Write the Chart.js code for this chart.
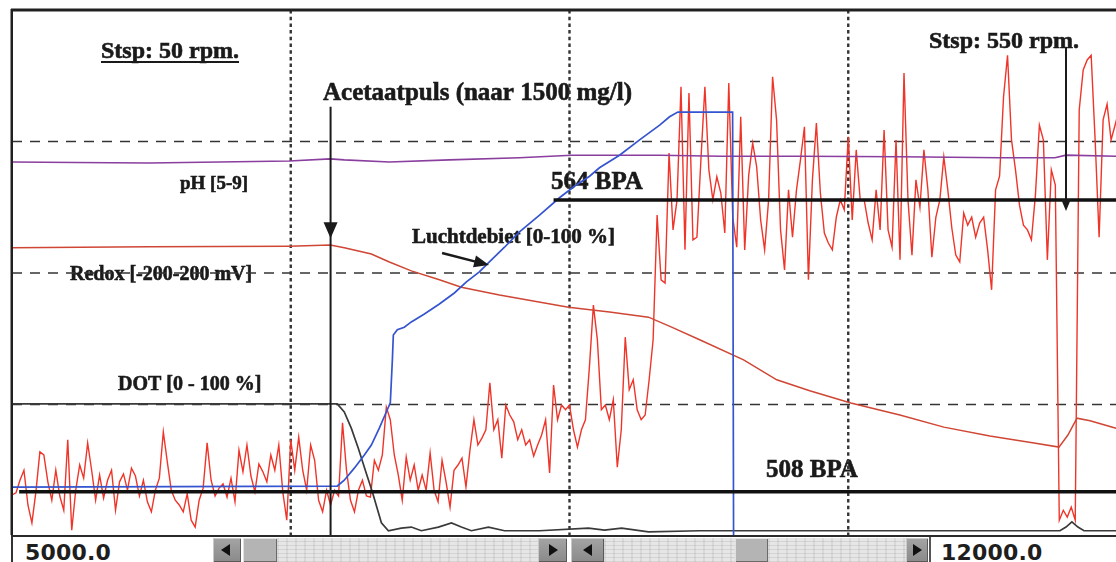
<!DOCTYPE html>
<html>
<head>
<meta charset="utf-8">
<script src="https://cdn.jsdelivr.net/npm/chart.js@4.4.1/dist/chart.umd.min.js"></script>
<style>
  html, body { margin: 0; padding: 0; background: #fff; overflow: hidden; width: 1116px; height: 562px; }
  #wrap { position: absolute; left: 0; top: 0; width: 1130px; height: 537px; }
  #status { position: absolute; left: 0; top: 535px; width: 1116px; height: 27px; overflow: hidden; background: #fff; }
  #status .topline { position: absolute; left: 11px; top: 0; width: 1105px; height: 2px; background: #2a2a2a; }
  #status .box { position: absolute; top: 2px; height: 25px; background: #fff; }
  #status .box span { position: absolute; top: 5px; font: bold 22px "DejaVu Sans", sans-serif; line-height: 22px; color: #1e1e1e; letter-spacing: 0.2px; }
  #status .btn { position: absolute; top: 3px; height: 24px; background: linear-gradient(#a4a4a4, #8a8a8a); box-shadow: inset 1px 1px 0 #c8c8c8, inset -1px -1px 0 #5a5a5a; }
  #status .thumb { position: absolute; top: 3px; height: 24px; background: #b4b4b4; box-shadow: inset 1px 1px 0 #e0e0e0, inset -1px -1px 0 #6a6a6a; }
  #status .track { position: absolute; top: 3px; height: 24px; background-color: #e6e6e6;
    background-image: repeating-linear-gradient(0deg, rgba(0,0,0,0.08) 0 1px, transparent 1px 4px),
                      repeating-linear-gradient(90deg, rgba(0,0,0,0.06) 0 2px, transparent 2px 9px); }
  #status .sep { position: absolute; top: 2px; height: 25px; background: #fff; }
  .tl, .tr { position: absolute; top: 6px; width: 0; height: 0; border-top: 6px solid transparent; border-bottom: 6px solid transparent; }
  .tl { border-right: 9px solid #111; }
  .tr { border-left: 9px solid #111; }
</style>
</head>
<body>
<div id="wrap"><canvas id="c" width="1130" height="537"></canvas></div>
<div id="status">
  <div class="topline"></div>
  <div class="box" style="left:11px;width:201px;border-left:2px solid #333;"><span style="left:12px;">5000.0</span></div>
  <div class="btn" style="left:213px;width:28px;"><i class="tl" style="left:8px;"></i></div>
  <div class="thumb" style="left:243px;width:34px;"></div>
  <div class="track" style="left:277px;width:261px;"></div>
  <div class="btn" style="left:538px;width:29px;"><i class="tr" style="left:11px;"></i></div>
  <div class="sep" style="left:567px;width:4px;"></div>
  <div class="btn" style="left:571px;width:33px;"><i class="tl" style="left:12px;"></i></div>
  <div class="track" style="left:604px;width:131px;"></div>
  <div class="thumb" style="left:735px;width:33px;"></div>
  <div class="track" style="left:768px;width:138px;"></div>
  <div class="btn" style="left:906px;width:22px;"><i class="tr" style="left:7px;"></i></div>
  <div class="box" style="left:929px;width:190px;border-left:2px solid #555;"><span style="left:10px;">12000.0</span></div>
</div>
<script>
// Time axis (s) and signal levels (% of each signal's range)
const timeMin = 5000;
const timeMax = 12000;
const timeGrid = [6750, 8500, 10250];
const levelGrid = [25, 50, 75];

// Stirrer trace, logged every 25 s from t = 5000 s
const rpmStart = 5000;
const rpmStep = 25;
const rpmValues = [
  7.8, 8.2, 10.6, 12.5, 5.9, 2.5, 8.4, 16.0, 15.4, 10.3,
  6.8, 12.5, 7.6, 4.9, 18.3, 1.1, 8.7, 13.5, 11.0, 17.7,
  12.5, 6.8, 11.6, 7.2, 10.6, 12.5, 4.9, 10.3, 11.8, 8.7,
  12.9, 11.4, 7.6, 10.6, 6.5, 4.6, 8.7, 11.0, 19.8, 14.1,
  8.7, 6.8, 5.9, 4.6, 8.0, 3.0, 1.7, 6.8, 9.1, 17.7,
  10.6, 7.6, 9.1, 9.9, 7.4, 11.0, 6.5, 16.3, 12.2, 17.3,
  11.4, 8.4, 13.7, 12.2, 10.3, 15.4, 12.5, 17.3, 8.4, 3.0,
  18.3, 12.5, 18.8, 12.5, 8.7, 17.3, 14.4, 6.8, 4.6, 8.7,
  5.9, 8.7, 7.6, 21.5, 12.5, 6.8, 4.6, 8.7, 10.6, 7.6,
  7.4, 14.4, 12.5, 15.4, 24.5, 22.1, 15.4, 11.6, 6.8, 15.0,
  10.6, 13.5, 8.7, 11.6, 8.7, 15.8, 8.7, 6.5, 14.4, 10.3,
  5.5, 12.5, 13.5, 14.8, 9.3, 16.3, 22.1, 17.3, 18.6, 20.2,
  29.1, 20.2, 22.1, 14.8, 24.9, 23.0, 21.7, 18.3, 20.2, 17.3,
  18.3, 15.2, 17.3, 19.2, 22.1, 12.0, 28.7, 22.1, 24.9, 24.0,
  24.9, 20.2, 16.9, 20.2, 22.1, 32.1, 43.9, 37.3, 24.0, 24.9,
  22.1, 25.9, 13.1, 20.2, 37.8, 27.8, 29.7, 24.0, 22.1, 23.0,
  29.7, 37.3, 61.0, 48.7, 48.1, 72.8, 58.2, 63.9, 85.4, 54.4,
  84.2, 56.3, 56.8, 71.5, 85.4, 69.6, 63.9, 68.3, 65.2, 57.6,
  86.1, 60.6, 54.9, 79.7, 54.4, 68.6, 74.7, 70.2, 60.1, 54.4,
  63.9, 87.3, 79.1, 58.2, 50.6, 65.8, 56.8, 65.8, 71.5, 77.8,
  48.7, 67.7, 78.5, 65.2, 57.6, 55.7, 54.4, 60.6, 63.9, 62.0,
  75.9, 60.1, 73.4, 63.9, 63.9, 59.5, 56.3, 65.8, 58.2, 77.2,
  58.2, 54.9, 75.3, 52.5, 88.0, 63.9, 53.4, 67.7, 62.5, 73.4,
  65.8, 53.0, 60.6, 63.9, 72.1, 65.8, 58.6, 53.4, 52.1, 61.4,
  59.1, 60.6, 56.8, 59.5, 60.6, 54.4, 46.8, 65.8, 68.4, 83.5,
  91.4, 75.3, 69.6, 62.9, 59.1, 58.2, 56.3, 64.8, 78.1, 75.3,
  52.5, 69.6, 66.7, 3.0, 4.9, 3.6, 5.5, 3.0, 81.0, 88.6,
  90.5, 91.4, 75.3, 56.8, 79.1, 82.1, 75.3, 78.1, 81.0, 77.2, 79.1
];

// pH [5-9]
const phTime  = [5000, 5400, 5861, 6300, 6741, 6998, 7086, 7369, 7746, 8186, 8513, 9066, 9455, 9945, 10574, 11202, 11548, 11617, 11931, 12000];
const phValue = [71.1, 71.0, 70.9, 71.1, 71.3, 71.7, 71.5, 71.1, 71.5, 71.9, 72.4, 72.4, 72.2, 72.2, 72.1, 71.9, 71.9, 72.4, 72.2, 72.2];

// Redox [-200-200 mV]
const redoxTime  = [5000, 5861, 6741, 6998, 7086, 7256, 7369, 7507, 7683, 7821, 8060, 8494, 8751, 8996, 9141, 9317, 9593, 9801, 10008, 10266, 10574, 10850, 11139, 11416, 11573, 11629, 11686, 11768, 11931, 12000];
const redoxValue = [54.8, 55.0, 55.1, 55.3, 54.8, 53.6, 52.1, 50.4, 48.7, 47.3, 45.8, 43.5, 42.6, 41.6, 39.7, 37.3, 33.5, 29.7, 27.6, 25.3, 23.0, 20.7, 19.0, 17.7, 16.9, 19.2, 22.4, 21.9, 20.5, 20.0];

// Luchtdebiet [0-100 %]
const airTime  = [5000, 7042, 7086, 7149, 7212, 7256, 7306, 7356, 7375, 7388, 7394, 7419, 7463, 7507, 7589, 7683, 7777, 7853, 7934, 7997, 8092, 8186, 8312, 8437, 8531, 8626, 8688, 8814, 8940, 9066, 9128, 9180, 9524, 9530, 12000];
const airValue = [9.3, 9.5, 10.6, 12.9, 15.4, 17.3, 20.5, 24.0, 25.3, 33.5, 38.2, 39.2, 39.7, 40.7, 42.2, 44.1, 46.2, 48.3, 50.2, 52.1, 54.9, 57.8, 61.0, 64.3, 66.5, 68.4, 70.0, 72.4, 75.3, 78.1, 79.7, 80.6, 80.6, 0, 0];

// DOT [0 - 100 %]
const dotTime  = [5000, 7042, 7086, 7130, 7174, 7218, 7262, 7319, 7363, 7444, 7507, 7570, 7677, 7759, 7821, 7884, 7991, 8092, 8312, 8619, 8720, 8827, 8996, 9317, 9945, 10574, 11202, 11579, 11617, 11654, 11692, 11730, 12000];
const dotValue = [25.1, 25.1, 23.6, 20.5, 16.7, 12.5, 8.4, 2.5, 1.0, 1.5, 1.7, 1.0, 1.7, 2.5, 1.7, 1.0, 1.7, 1.0, 1.0, 1.5, 1.1, 1.5, 0.8, 1.0, 1.0, 1.0, 1.0, 1.0, 1.7, 2.7, 1.7, 1.0, 1.0];

// Reference levels (BPA)
const bpaLevels = [508, 564];
const bpaFrom = [5045, 8400];

const pts = (ts, vs) => ts.map((t, i) => ({ x: t, y: vs[i] }));
const rpmPoints = rpmValues.map((v, i) => ({ x: rpmStart + i * rpmStep, y: v }));

const serifBold = '"Liberation Serif", "Times New Roman", serif';
const notes = [
  { text: 'Stsp: 50 rpm.', x: 101, y: 58, size: 24, underline: true },
  { text: 'Acetaatpuls (naar 1500 mg/l)', x: 323, y: 100, size: 25 },
  { text: 'Stsp: 550 rpm.', x: 929, y: 48, size: 24 },
  { text: 'pH [5-9]', x: 180, y: 189, size: 19 },
  { text: '564 BPA', x: 551, y: 189, size: 25 },
  { text: 'Luchtdebiet [0-100 %]', x: 412, y: 243, size: 21 },
  { text: 'Redox [-200-200 mV]', x: 70, y: 280, size: 20 },
  { text: 'DOT [0 - 100 %]', x: 118, y: 390, size: 20 },
  { text: '508 BPA', x: 766, y: 477, size: 25 }
];

// Event markers in data coordinates
const pulseMarker = { t: 7000, top: 81.6, tip: 56.6 };
const setpointMarker = { t: 11617, top: 93.0, tip: 61.8 };
const airPointer = { t1: 7700, v1: 53.8, t2: 7995, v2: 51.5 };

function arrowHead(ctx, x, y, angle, len, half) {
  ctx.save();
  ctx.translate(x, y);
  ctx.rotate(angle);
  ctx.beginPath();
  ctx.moveTo(0, 0);
  ctx.lineTo(-len, -half);
  ctx.lineTo(-len, half);
  ctx.closePath();
  ctx.fill();
  ctx.restore();
}

const overlay = {
  id: 'overlay',
  beforeDatasetsDraw(chart) {
    const { ctx, chartArea: a, scales } = chart;
    const x = scales.x, y = scales.y;
    ctx.save();
    ctx.fillStyle = '#1a1a1a';
    ctx.strokeStyle = '#1a1a1a';
    ctx.lineWidth = 0.6;
    ctx.textBaseline = 'alphabetic';
    for (const n of notes) {
      ctx.font = 'bold ' + n.size + 'px ' + serifBold;
      ctx.fillText(n.text, n.x, n.y);
      ctx.strokeText(n.text, n.x, n.y);
      if (n.underline) {
        const w = ctx.measureText(n.text).width;
        ctx.fillRect(n.x, n.y + 3, w, 2);
      }
    }
    ctx.strokeStyle = '#343434';
    ctx.lineWidth = 1.6;
    ctx.setLineDash([10, 8]);
    for (const v of levelGrid) {
      const py = y.getPixelForValue(v);
      ctx.beginPath(); ctx.moveTo(a.left, py); ctx.lineTo(a.right, py); ctx.stroke();
    }
    ctx.lineWidth = 2.4;
    ctx.setLineDash([3.5, 3.2]);
    for (const t of timeGrid) {
      const px = x.getPixelForValue(t);
      ctx.beginPath(); ctx.moveTo(px, a.top); ctx.lineTo(px, a.bottom); ctx.stroke();
    }
    ctx.restore();
  },
  afterDatasetsDraw(chart) {
    const { ctx, chartArea: a, scales } = chart;
    const x = scales.x, y = scales.y;
    ctx.save();
    ctx.strokeStyle = '#1a1a1a';
    ctx.fillStyle = '#1a1a1a';
    ctx.setLineDash([]);

    // acetate pulse marker
    let px = x.getPixelForValue(pulseMarker.t);
    ctx.lineWidth = 2;
    ctx.beginPath();
    ctx.moveTo(px, y.getPixelForValue(pulseMarker.top));
    ctx.lineTo(px, y.getPixelForValue(0));
    ctx.stroke();
    arrowHead(ctx, px, y.getPixelForValue(pulseMarker.tip), Math.PI / 2, 16, 7);

    // setpoint change marker
    px = x.getPixelForValue(setpointMarker.t);
    const tipY = y.getPixelForValue(setpointMarker.tip);
    ctx.beginPath();
    ctx.moveTo(px, y.getPixelForValue(setpointMarker.top));
    ctx.lineTo(px, tipY - 8);
    ctx.stroke();
    arrowHead(ctx, px, tipY, Math.PI / 2, 12, 5);

    // pointer to the air-flow curve
    const ax1 = x.getPixelForValue(airPointer.t1), ay1 = y.getPixelForValue(airPointer.v1);
    const ax2 = x.getPixelForValue(airPointer.t2), ay2 = y.getPixelForValue(airPointer.v2);
    const ang = Math.atan2(ay2 - ay1, ax2 - ax1);
    ctx.lineWidth = 2.4;
    ctx.beginPath();
    ctx.moveTo(ax1, ay1);
    ctx.lineTo(ax2 - 10 * Math.cos(ang), ay2 - 10 * Math.sin(ang));
    ctx.stroke();
    arrowHead(ctx, ax2, ay2, ang, 15, 6);

    // frame
    ctx.fillStyle = '#202020';
    ctx.fillRect(a.left - 1, a.top - 1.5, a.right - a.left + 2, 3);
    ctx.fillRect(a.left - 1.5, a.top - 1, 2.5, a.bottom - a.top + 3);
    ctx.restore();
  }
};

const lineDefaults = { pointRadius: 0, tension: 0, fill: false, spanGaps: true };

new Chart(document.getElementById('c'), {
  type: 'line',
  data: {
    datasets: [
      Object.assign({ label: '508 BPA', data: [{ x: bpaFrom[0], y: bpaLevels[0] }, { x: timeMax, y: bpaLevels[0] }], yAxisID: 'yBpa', borderColor: '#111', borderWidth: 3.5, order: 0 }, lineDefaults),
      Object.assign({ label: '564 BPA', data: [{ x: bpaFrom[1], y: bpaLevels[1] }, { x: timeMax, y: bpaLevels[1] }], yAxisID: 'yBpa', borderColor: '#111', borderWidth: 3.5, order: 0 }, lineDefaults),
      Object.assign({ label: 'Luchtdebiet [0-100 %]', data: pts(airTime, airValue), borderColor: '#3554cf', borderWidth: 1.7, order: 1 }, lineDefaults),
      Object.assign({ label: 'DOT [0 - 100 %]', data: pts(dotTime, dotValue), borderColor: '#3a3a3a', borderWidth: 1.7, order: 2 }, lineDefaults),
      Object.assign({ label: 'Redox [-200-200 mV]', data: pts(redoxTime, redoxValue), borderColor: '#cf4634', borderWidth: 1.5, order: 3 }, lineDefaults),
      Object.assign({ label: 'pH [5-9]', data: pts(phTime, phValue), borderColor: '#8a3e9e', borderWidth: 1.6, order: 4 }, lineDefaults),
      Object.assign({ label: 'Stsp', data: rpmPoints, borderColor: '#ef3529', borderWidth: 1.4, order: 5 }, lineDefaults)
    ]
  },
  options: {
    responsive: false,
    devicePixelRatio: 1,
    animation: false,
    events: [],
    layout: { padding: { left: 12, right: 3, top: 10, bottom: 1 } },
    plugins: { legend: { display: false }, tooltip: { enabled: false } },
    scales: {
      x: { type: 'linear', min: timeMin, max: timeMax, display: false },
      y: { type: 'linear', min: 0, max: 100, display: false },
      yBpa: { type: 'linear', min: 499.5, max: 600.5, display: false }
    }
  },
  plugins: [overlay]
});
</script>
</body>
</html>
